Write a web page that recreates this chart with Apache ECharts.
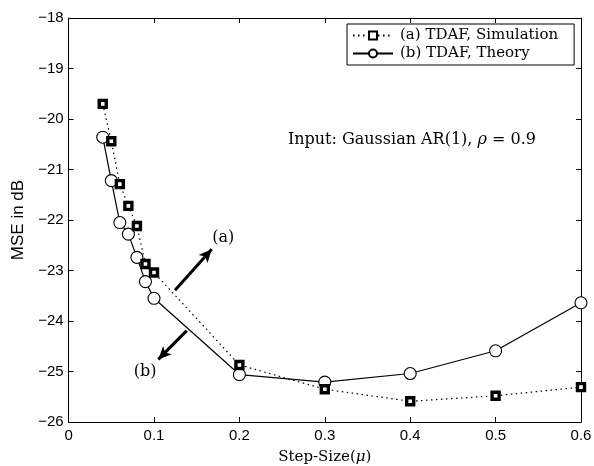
<!DOCTYPE html>
<html>
<head>
<meta charset="utf-8">
<script src="https://cdn.jsdelivr.net/npm/echarts@6/dist/echarts.min.js"></script>
<style>
  html, body { margin: 0; padding: 0; background: #fff; }
  #chart { width: 594px; height: 466px; }
</style>
</head>
<body>
<div id="chart"></div>
<script>
// step sizes and MSE (dB)
const stepSizes = [0.04, 0.05, 0.06, 0.07, 0.08, 0.09, 0.1, 0.2, 0.3, 0.4, 0.5, 0.6];
const simMse = [-19.70, -20.44, -21.29, -21.72, -22.12, -22.87, -23.04, -24.87, -25.35, -25.59, -25.48, -25.31];
const theoryMse = [-20.36, -21.22, -22.05, -22.28, -22.74, -23.22, -23.55, -25.06, -25.21, -25.04, -24.59, -23.64];
const xTicks = [0, 0.1, 0.2, 0.3, 0.4, 0.5, 0.6];
const yTicks = [-26, -25, -24, -23, -22, -21, -20, -19, -18];

// annotation arrows, in data coordinates
const arrowA = [[0.1246, -23.39], [0.1676, -22.58]];
const arrowB = [[0.1383, -24.19], [0.1050, -24.76]];
const labelA = [0.181, -22.36];
const labelB = [0.0895, -25.01];
const noteAt = [0.402, -20.42];

const serif = "'DejaVu Serif', 'Liberation Serif', serif";
const sans = "'Liberation Sans', Arial, sans-serif";
const fmtY = (v) => (v < 0 ? "\u2212" + Math.abs(v) : String(v));

const chart = echarts.init(document.getElementById("chart"));

const boxAxisX = {
  type: "value", min: 0, max: 0.6, interval: 0.1,
  axisLine: { show: true, onZero: false, lineStyle: { color: "#000", width: 1 } },
  axisTick: { show: true, inside: true, length: 5, lineStyle: { color: "#000" } },
  splitLine: { show: false },
};
const boxAxisY = {
  type: "value", min: -26, max: -18, interval: 1,
  axisLine: { show: true, onZero: false, lineStyle: { color: "#000", width: 1 } },
  axisTick: { show: true, inside: true, length: 5, lineStyle: { color: "#000" } },
  splitLine: { show: false },
};

chart.setOption({
  animation: false,
  backgroundColor: "#fff",
  grid: { left: 68.6, right: 13, top: 18, bottom: 44, containLabel: false, outerBoundsMode: "none" },
  legend: {
    data: ["(a) TDAF, Simulation", "(b) TDAF, Theory"],
    orient: "vertical",
    left: 347, top: 24,
    padding: [4, 16, 4, 5],
    itemGap: 3,
    itemWidth: 40, itemHeight: 10,
    borderColor: "#000", borderWidth: 1,
    backgroundColor: "#fff",
    textStyle: { fontFamily: serif, fontSize: 15, color: "#000", padding: [0, 0, 0, 2] },
  },
  xAxis: [
    Object.assign({}, boxAxisX, {
      position: "bottom",
      name: "{t|Step-Size(}{i|\u03bc}{t|)}",
      nameLocation: "middle", nameGap: 28,
      nameTextStyle: {
        rich: {
          t: { fontFamily: serif, fontSize: 15, color: "#000" },
          i: { fontFamily: serif, fontSize: 15, fontStyle: "italic", color: "#000" },
        },
      },
      axisLabel: {
        color: "#000", fontFamily: sans, fontSize: 15, margin: 6,
        formatter: (v) => (xTicks.includes(+v.toFixed(1)) ? String(+v.toFixed(1)) : ""),
      },
    }),
    Object.assign({}, boxAxisX, { position: "top", axisLabel: { show: false } }),
  ],
  yAxis: [
    Object.assign({}, boxAxisY, {
      position: "left",
      name: "MSE in dB",
      nameLocation: "middle", nameGap: 38,
      nameTextStyle: { fontFamily: sans, fontSize: 17, color: "#000" },
      axisLabel: {
        color: "#000", fontFamily: sans, fontSize: 15, margin: 5,
        formatter: (v) => (yTicks.includes(v) ? fmtY(v) : ""),
      },
    }),
    Object.assign({}, boxAxisY, { position: "right", axisLabel: { show: false } }),
  ],
  series: [
    {
      name: "(a) TDAF, Simulation",
      type: "line",
      data: stepSizes.map((x, i) => [x, simMse[i]]),
      symbol: "rect", symbolSize: 7,
      itemStyle: { color: "#fff", borderColor: "#000", borderWidth: 3.4 },
      lineStyle: { color: "#000", width: 1.2, type: [1.5, 3.5] },
      z: 3,
      markLine: {
        silent: true,
        symbol: ["none", "arrow"],
        symbolSize: [9, 13],
        label: { show: false },
        lineStyle: { color: "#000", width: 3, type: "solid" },
        data: [
          [{ coord: arrowA[0] }, { coord: arrowA[1] }],
          [{ coord: arrowB[0] }, { coord: arrowB[1] }],
        ],
      },
    },
    {
      name: "(b) TDAF, Theory",
      type: "line",
      data: stepSizes.map((x, i) => [x, theoryMse[i]]),
      symbol: "circle", symbolSize: 12,
      itemStyle: { color: "#fff", borderColor: "#000", borderWidth: 1.1 },
      lineStyle: { color: "#000", width: 1.2, type: "solid" },
      z: 2,
    },
    {
      name: "notes",
      type: "scatter",
      symbolSize: 0,
      silent: true,
      z: 5,
      itemStyle: { opacity: 1 },
      data: [
        { value: labelA, label: { formatter: "(a)" } },
        { value: labelB, label: { formatter: "(b)" } },
        { value: noteAt, label: { formatter: "{t|Input: Gaussian AR(1), }{i|\u03c1}{t| = 0.9}" } },
      ],
      label: {
        show: true, position: "inside",
        fontFamily: serif, fontSize: 16, color: "#000", opacity: 1, textBorderWidth: 0,
        rich: {
          t: { fontFamily: serif, fontSize: 16, color: "#000" },
          i: { fontFamily: serif, fontSize: 16, fontStyle: "italic", color: "#000" },
        },
      },
    },
  ],
});
</script>
</body>
</html>
